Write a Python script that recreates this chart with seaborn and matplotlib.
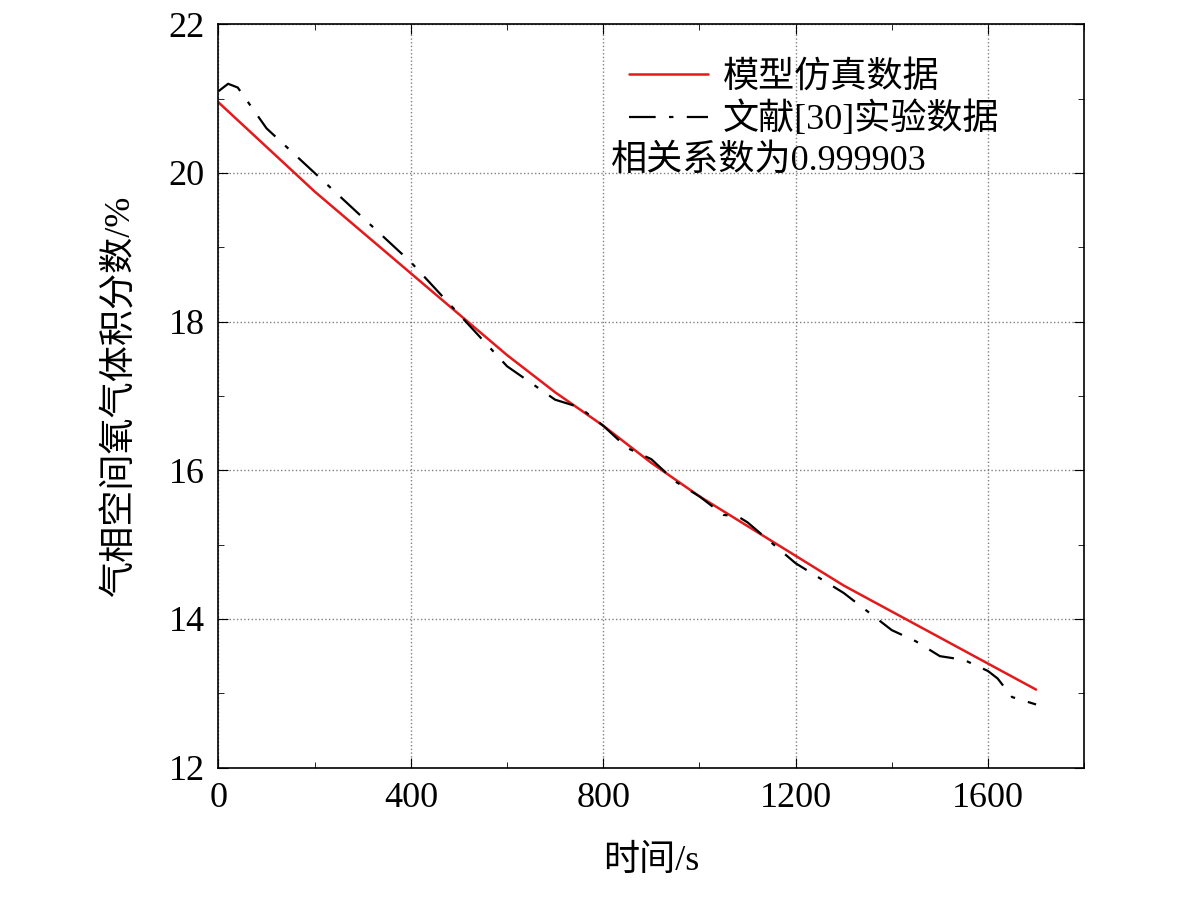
import matplotlib
matplotlib.use('Agg')
import matplotlib.pyplot as plt
import seaborn as sns
import pandas as pd
from matplotlib.ticker import MultipleLocator

sim_t = [0, 100, 200, 300, 400, 500, 600, 700, 800, 900, 1000, 1100, 1200, 1300, 1400, 1500, 1600, 1700]
sim_o2 = [20.95, 20.35, 19.75, 19.2, 18.65, 18.1, 17.55, 17.05, 16.6, 16.1, 15.65, 15.25, 14.85, 14.45, 14.1, 13.75, 13.4, 13.05]
exp_t = [0, 20, 40, 100, 200, 300, 400, 500, 600, 700, 750, 800, 850, 900, 950, 1000, 1050, 1080, 1100, 1200, 1300, 1380, 1400, 1450, 1500, 1550, 1600, 1620, 1650, 1700]
exp_o2 = [21.1, 21.2, 21.15, 20.6, 20.0, 19.4, 18.8, 18.1, 17.4, 16.95, 16.85, 16.6, 16.3, 16.15, 15.85, 15.65, 15.4, 15.38, 15.3, 14.75, 14.35, 13.95, 13.85, 13.7, 13.5, 13.45, 13.3, 13.2, 12.95, 12.85]
corr_text = '相关系数为0.999903'

sns.set_style('ticks')
plt.rcParams['font.family'] = ['Liberation Serif', 'Noto Sans CJK SC']
plt.rcParams['font.size'] = 26
plt.rcParams['text.color'] = 'black'
plt.rcParams['axes.labelcolor'] = 'black'
plt.rcParams['xtick.color'] = 'black'
plt.rcParams['ytick.color'] = 'black'
plt.rcParams['axes.edgecolor'] = 'black'

fig, ax = plt.subplots(figsize=(11.81, 9.01), dpi=100)
fig.subplots_adjust(left=0.185, right=0.918, top=0.973, bottom=0.148)

sns.lineplot(data=pd.DataFrame({'t': sim_t, 'y': sim_o2}), x='t', y='y', ax=ax,
             color='#e31a1c', lw=1.8, label='模型仿真数据')
sns.lineplot(data=pd.DataFrame({'t': exp_t, 'y': exp_o2}), x='t', y='y', ax=ax,
             color='black', lw=1.6, ls=(0, (12, 6, 2, 6)), label='文献[30]实验数据')
ax.plot([], [], ' ', label=corr_text)

ax.set_xlim(0, 1800)
ax.set_ylim(12, 22)
ax.xaxis.set_major_locator(MultipleLocator(400))
ax.xaxis.set_minor_locator(MultipleLocator(200))
ax.yaxis.set_major_locator(MultipleLocator(2))
ax.yaxis.set_minor_locator(MultipleLocator(1))
ax.tick_params(which='both', direction='in', top=True, right=True, labelsize=26)
ax.tick_params(which='major', length=7, pad=10)
ax.tick_params(which='minor', length=4)
ax.grid(True, which='major', ls=':', color='gray', lw=1)
for s in ax.spines.values():
    s.set_linewidth(1.2)
ax.set_xlabel('时间/s', fontsize=26, labelpad=22)
ax.set_ylabel('气相空间氧气体积分数/%', fontsize=26, labelpad=22)

leg = ax.legend(loc='upper right', frameon=False, fontsize=26, handlelength=2.2,
                handletextpad=0.4, labelspacing=0.2, bbox_to_anchor=(0.985, 0.995))
leg.legend_handles[2].set_visible(False)
leg.get_texts()[2].set_position((-112, 0))

fig.savefig('out.png', dpi=100)
